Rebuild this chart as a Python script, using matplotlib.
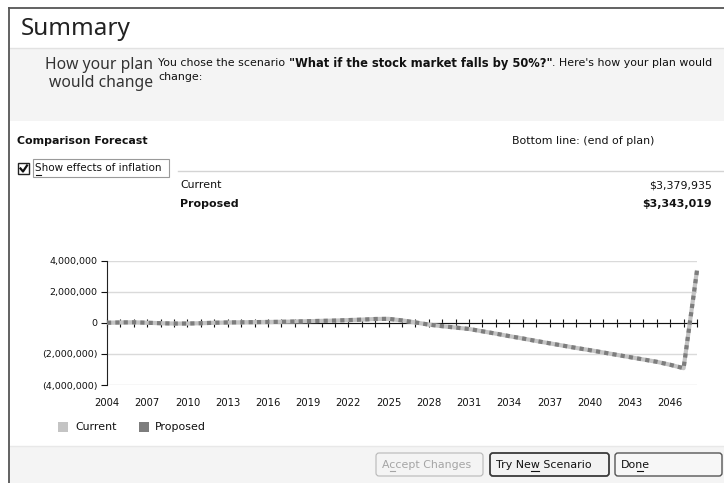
import matplotlib
matplotlib.use("Agg")
import matplotlib.pyplot as plt
from matplotlib.patches import Rectangle, FancyBboxPatch
from matplotlib.ticker import FuncFormatter

W, H = 724, 483

# ---- data (dollars, inflation adjusted) ----
years = [
    2004, 2005, 2006, 2007, 2008, 2009, 2010, 2011, 2012, 2013, 2014,
    2015, 2016, 2017, 2018, 2019, 2020, 2021, 2022, 2023, 2024, 2025,
    2026, 2027, 2028, 2029, 2030, 2031, 2032, 2033, 2034, 2035, 2036,
    2037, 2038, 2039, 2040, 2041, 2042, 2043, 2044, 2045, 2046, 2047, 2048,
]
current = [
    0, 20000, 30000, 0, -30000, -50000, -50000, -30000, 0, 20000, 30000,
    40000, 50000, 60000, 80000, 100000, 120000, 140000, 170000, 200000, 240000, 250000,
    150000, 20000, -120000, -220000, -310000, -400000, -550000, -700000, -860000, -1010000, -1170000,
    -1320000, -1470000, -1620000, -1760000, -1910000, -2060000, -2210000, -2360000, -2510000, -2700000, -2920000, 3379935,
]
proposed = [
    0, 20000, 30000, 0, -30000, -50000, -50000, -30000, 0, 20000, 30000,
    40000, 50000, 60000, 80000, 100000, 120000, 140000, 170000, 200000, 240000, 250000,
    150000, 20000, -120000, -220000, -310000, -400000, -550000, -700000, -860000, -1010000, -1170000,
    -1320000, -1470000, -1620000, -1760000, -1910000, -2060000, -2210000, -2360000, -2510000, -2700000, -2920000, 3343019,
]
label_years = [2004, 2007, 2010, 2013, 2016, 2019, 2022, 2025, 2028, 2031, 2034, 2037, 2040, 2043, 2046]
y_ticks = [4000000, 2000000, 0, -2000000, -4000000]
series_names = ["Current", "Proposed"]
bottom_line = ["$3,379,935", "$3,343,019"]

CUR_COLOR = "#c4c4c4"
PROP_COLOR = "#7d7d7d"
TXT = "#111111"
UI_FONT = "DejaVu Sans"
HEAD_FONT = "Noto Sans"
FS = 7.9

fig = plt.figure(figsize=(W / 100, H / 100), dpi=100, facecolor="white")

# full-figure axes in pixel units for the dialog chrome
ui = fig.add_axes([0, 0, 1, 1])
ui.set_xlim(0, W)
ui.set_ylim(H, 0)
ui.axis("off")

fig.canvas.draw()
renderer = fig.canvas.get_renderer()


def text_width(txt, size, weight="normal"):
    t = ui.text(0, 0, txt, fontsize=size, family=UI_FONT, fontweight=weight)
    w = t.get_window_extent(renderer).width
    t.remove()
    return w


def underline(x, y, prefix, char, size, color=TXT):
    # mnemonic underline under one letter, like the Windows dialog
    x0 = x + text_width(prefix, size) if prefix else x
    x1 = x + text_width(prefix + char, size)
    ui.plot([x0 + 0.5, x1 - 0.5], [y, y], color=color, lw=0.8)


# panels
ui.add_patch(Rectangle((10, 48), W - 10, 73, facecolor="#f4f4f4", edgecolor="none"))
ui.add_patch(Rectangle((10, 446), W - 10, H - 446, facecolor="#f4f4f4", edgecolor="none"))
ui.plot([10, W], [48, 48], color="#e2e2e2", lw=1)
ui.plot([10, W], [446, 446], color="#e8e8e8", lw=1)
# outer frame
ui.plot([9, 9], [8, H], color="#555555", lw=1.3)
ui.plot([9, W], [8, 8], color="#555555", lw=1.3)

ui.text(21, 29, "Summary", fontsize=17.5, family=HEAD_FONT, color="#222222", va="center")
ui.text(153, 65, "How your plan", fontsize=11.3, family=HEAD_FONT, color="#333333", va="center", ha="right")
ui.text(153, 83, "would change", fontsize=11.3, family=HEAD_FONT, color="#333333", va="center", ha="right")

x = 158
for txt, weight, size in [
    ("You chose the scenario ", "normal", FS),
    ('"What if the stock market falls by 50%?"', "bold", 8.3),
    (". Here's how your plan would", "normal", FS),
]:
    t = ui.text(x, 63, txt, fontsize=size, family=UI_FONT, fontweight=weight, color=TXT, va="center")
    x = t.get_window_extent(renderer).x1
ui.text(158, 77, "change:", fontsize=FS, family=UI_FONT, color=TXT, va="center")

ui.text(17, 141, "Comparison Forecast", fontsize=FS, family=UI_FONT, fontweight="bold", color=TXT, va="center")
ui.text(512, 141, "Bottom line: (end of plan)", fontsize=FS, family=UI_FONT, color=TXT, va="center")

# checkbox
ui.add_patch(Rectangle((18, 163), 11, 11, facecolor="white", edgecolor="#222222", lw=1))
ui.plot([20.5, 23, 27], [168.5, 171.5, 165.5], color=TXT, lw=1.6)
ui.add_patch(Rectangle((33, 159), 136, 18, facecolor="none", edgecolor="#9a9a9a", lw=0.8))
ui.text(35, 168, "Show effects of inflation", fontsize=7.5, family=UI_FONT, color=TXT, va="center")
underline(35, 174.5, "", "S", 7.5)

ui.plot([178, W], [171, 171], color="#d4d4d4", lw=1)
ui.text(180, 185, series_names[0], fontsize=FS, family=UI_FONT, color=TXT, va="center")
ui.text(712, 185, bottom_line[0], fontsize=FS, family=UI_FONT, color=TXT, va="center", ha="right")
ui.text(180, 204, series_names[1], fontsize=FS, family=UI_FONT, fontweight="bold", color=TXT, va="center")
ui.text(712, 204, bottom_line[1], fontsize=FS, family=UI_FONT, fontweight="bold", color=TXT, va="center", ha="right")

# legend
ui.add_patch(Rectangle((58, 422), 10, 10, facecolor=CUR_COLOR, edgecolor="none"))
ui.text(75, 427, series_names[0], fontsize=FS, family=UI_FONT, color=TXT, va="center")
ui.add_patch(Rectangle((139, 422), 10, 10, facecolor=PROP_COLOR, edgecolor="none"))
ui.text(155, 427, series_names[1], fontsize=FS, family=UI_FONT, color=TXT, va="center")

# buttons: label, x0, x1, edge, face, text colour, border width, mnemonic split
buttons = [
    ("Accept Changes", 376, 483, "#b8b8b8", "#f4f4f4", "#a5a5a5", 0.8, ("A", "c")),
    ("Try New Scenario", 490, 609, "#3a3a3a", "#f2f2f2", TXT, 1.3, ("Try Ne", "w")),
    ("Done", 615, 722, "#555555", "#f7f7f7", TXT, 1.0, ("Do", "n")),
]
for label, x0, x1, ec, fc, tc, lw, (pre, ch) in buttons:
    ui.add_patch(FancyBboxPatch((x0, 453), x1 - x0, 23, boxstyle="round,pad=0,rounding_size=3",
                                facecolor=fc, edgecolor=ec, lw=lw))
    ui.text(x0 + 6, 465, label, fontsize=FS, family=UI_FONT, color=tc, va="center")
    underline(x0 + 6, 470.5, pre, ch, FS, tc)

# ---- the forecast chart ----
ax = fig.add_axes([107 / W, 1 - 385 / H, (697 - 107) / W, (385 - 260.5) / H])
ax.set_facecolor("none")
ax.plot(years, current, color=CUR_COLOR, lw=3, solid_capstyle="butt", clip_on=False, zorder=3)
ax.plot(years, proposed, color=PROP_COLOR, lw=3, dashes=(1, 1), clip_on=False, zorder=4)
ax.set_xlim(2004, 2048)
ax.set_ylim(-4000000, 4000000)

ax.set_yticks(y_ticks)
ax.yaxis.set_major_formatter(FuncFormatter(
    lambda v, _: "0" if v == 0 else (f"{v:,.0f}" if v > 0 else f"({-v:,.0f})")))
ax.tick_params(axis="y", direction="out", length=4, width=0.8, pad=3, labelsize=6.8, colors=TXT)
ax.grid(axis="y", color="#dadada", lw=1)
ax.set_axisbelow(True)

for s in ["top", "right"]:
    ax.spines[s].set_visible(False)
ax.spines["left"].set_color("#222222")
ax.spines["bottom"].set_position(("data", 0))
ax.spines["bottom"].set_color(TXT)
ax.spines["bottom"].set_zorder(2)
ax.set_xticks(years)
ax.tick_params(axis="x", direction="inout", length=6, width=0.8, labelbottom=False, colors=TXT)

sec = ax.secondary_xaxis("bottom")
sec.set_xticks(label_years)
sec.set_xticklabels([str(y) for y in label_years])
sec.tick_params(length=0, pad=9, labelsize=7.2, colors=TXT)
sec.spines["bottom"].set_visible(False)

fig.savefig("out.png", dpi=100)
